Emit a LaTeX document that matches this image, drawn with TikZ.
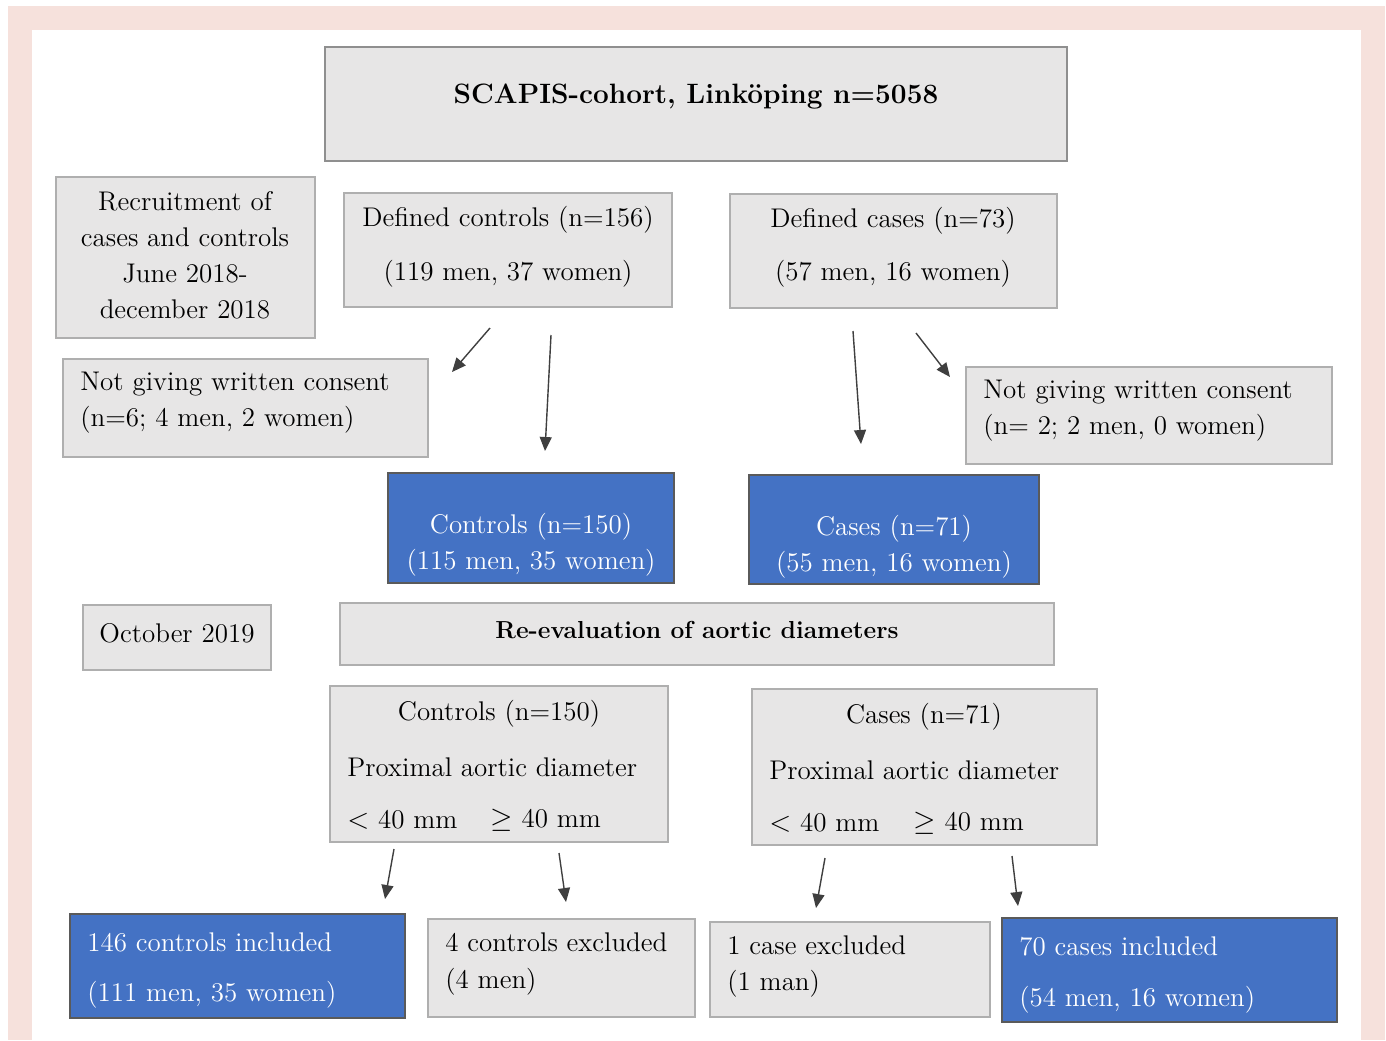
\documentclass[tikz,border=0pt]{standalone}
\usetikzlibrary{arrows.meta}
\definecolor{framepink}{HTML}{F6E1DC}
\definecolor{boxgray}{HTML}{E7E6E6}
\definecolor{edgegray}{HTML}{AFAFAF}
\definecolor{edgemid}{HTML}{8F8F8F}
\definecolor{boxblue}{HTML}{4472C4}
\definecolor{edgedark}{HTML}{5A5A5A}
\definecolor{arrowgray}{HTML}{3F3F3F}
\tikzset{
  graybox/.style={fill=boxgray, draw=edgegray, line width=1pt},
  bluebox/.style={fill=boxblue, draw=edgedark, line width=1pt},
  txt/.style={inner sep=0pt, yshift=-1pt, font=\fontsize{13.5}{18}\selectfont},
  ltxt/.style={txt, anchor=west},
  wtxt/.style={txt, text=white},
  flow/.style={arrowgray, line width=0.7pt, -{Triangle[length=7pt,width=6pt]}}
}
\begin{document}
\begin{tikzpicture}[x=0.5pt,y=-0.5pt]
\useasboundingbox (0,0) rectangle (1386,1040);
% Rahmen
\fill[framepink] (8,6) rectangle (1385,1040);
\fill[white] (32,30) rectangle (1361,1040);

% Kohorte
\draw[graybox, draw=edgemid] (325,47) rectangle (1067,161);
\node[txt, font=\bfseries\fontsize{14}{17}\selectfont] (title) at (696,95) {SCAPIS-cohort, Link\"oping n=5058};

% Rekrytering
\draw[graybox] (56,177) rectangle (315,338);
\node[txt, align=center] (recruit) at (185,253) {Recruitment of\\cases and controls\\June 2018-\\december 2018};

\draw[graybox] (344,193) rectangle (672,307);
\node[txt] (defctrl) at (508,218) {Defined controls (n=156)};
\node[txt] (defctrlsex) at (508,272) {(119 men, 37 women)};

\draw[graybox] (730,194) rectangle (1057,308);
\node[txt] (defcase) at (893,219) {Defined cases (n=73)};
\node[txt] (defcasesex) at (893,272) {(57 men, 16 women)};

% Bortfall
\draw[graybox] (63,359) rectangle (428,457);
\node[ltxt, align=left] (noconsL) at (80,401) {Not giving written consent\\(n=6; 4 men, 2 women)};

\draw[graybox] (966,367) rectangle (1332,464);
\node[ltxt, align=left] (noconsR) at (983,409) {Not giving written consent\\(n= 2; 2 men, 0 women)};

% Inkluderade
\draw[bluebox] (388,473) rectangle (674,583);
\node[wtxt, align=center] (ctrl) at (531,543) {Controls (n=150)\\(115 men, 35 women)};

\draw[bluebox] (749,475) rectangle (1039,584);
\node[wtxt, align=center] (case) at (894,545) {Cases (n=71)\\(55 men, 16 women)};

% Omvärdering
\draw[graybox] (83,605) rectangle (271,670);
\node[txt] (oct) at (177,631) {October 2019};

\draw[graybox] (340,603) rectangle (1054,665);
\node[txt, font=\bfseries\fontsize{12.3}{15}\selectfont] (reeval) at (697,628) {Re-evaluation of aortic diameters};

\draw[graybox] (330,686) rectangle (668,842);
\node[txt] (ctrlB) at (499,712) {Controls (n=150)};
\node[ltxt] (ctrlprox) at (347,765) {Proximal aortic diameter};
\node[ltxt] (ctrllo) at (347,818) {$<$ 40 mm};
\node[ltxt] (ctrlhi) at (490,818) {$\geq$ 40 mm};

\draw[graybox] (752,689) rectangle (1097,845);
\node[txt] (caseB) at (924,715) {Cases (n=71)};
\node[ltxt] (caseprox) at (769,768) {Proximal aortic diameter};
\node[ltxt] (caselo) at (769,821) {$<$ 40 mm};
\node[ltxt] (casehi) at (913,821) {$\geq$ 40 mm};

% Slutligt urval
\draw[bluebox] (70,914) rectangle (405,1018);
\node[ltxt, text=white] (ctrlin) at (87,940) {146 controls included};
\node[ltxt, text=white] (ctrlinsex) at (87,993) {(111 men, 35 women)};

\draw[graybox] (428,919) rectangle (695,1017);
\node[ltxt, align=left] (ctrlex) at (445,962) {4 controls excluded\\(4 men)};

\draw[graybox] (710,922) rectangle (990,1017);
\node[ltxt, align=left] (caseex) at (727,965) {1 case excluded\\(1 man)};

\draw[bluebox] (1002,918) rectangle (1337,1022);
\node[ltxt, text=white] (casein) at (1019,944) {70 cases included};
\node[ltxt, text=white] (caseinsex) at (1019,998) {(54 men, 16 women)};

% Pilar
\coordinate (p1s) at (490,328); \coordinate (p1e) at (452,372);
\coordinate (p2s) at (551,335); \coordinate (p2e) at (545,451);
\coordinate (p3s) at (853,331); \coordinate (p3e) at (861,444);
\coordinate (p4s) at (916,333); \coordinate (p4e) at (950,377);
\coordinate (p5s) at (394,849); \coordinate (p5e) at (385,899);
\coordinate (p6s) at (559,853); \coordinate (p6e) at (566,902);
\coordinate (p7s) at (825,858); \coordinate (p7e) at (816,908);
\coordinate (p8s) at (1012,856); \coordinate (p8e) at (1018,906);
\draw[flow] (p1s) -- (p1e);
\draw[flow] (p2s) -- (p2e);
\draw[flow] (p3s) -- (p3e);
\draw[flow] (p4s) -- (p4e);
\draw[flow] (p5s) -- (p5e);
\draw[flow] (p6s) -- (p6e);
\draw[flow] (p7s) -- (p7e);
\draw[flow] (p8s) -- (p8e);
\end{tikzpicture}
\end{document}
